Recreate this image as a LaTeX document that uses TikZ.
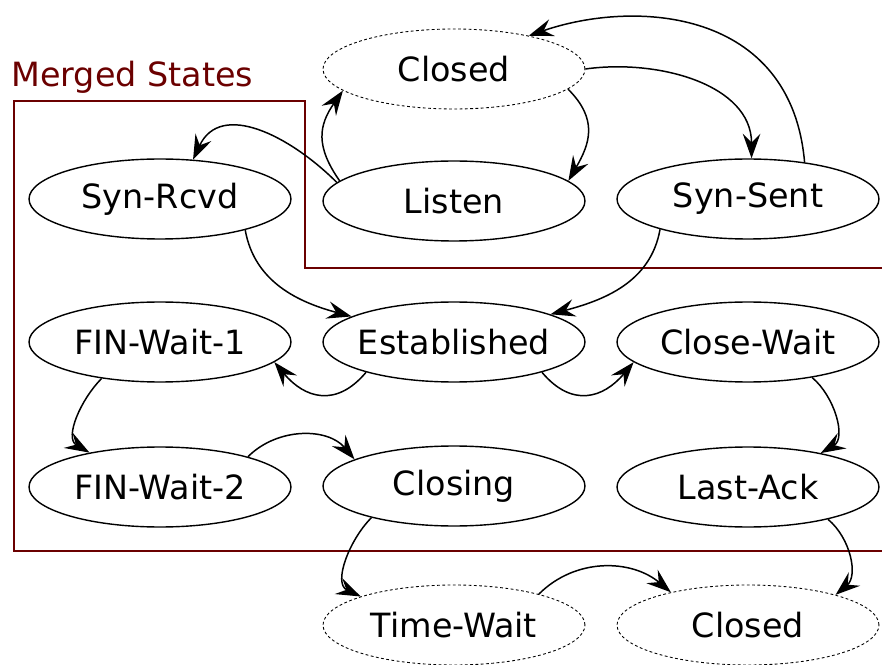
\documentclass[tikz,border=0pt]{standalone}
\usepackage{fontspec}
\setmainfont{DejaVu Sans}
\usetikzlibrary{arrows.meta,shapes.geometric}
\definecolor{mergedred}{HTML}{6B0000}
\begin{document}
\begin{tikzpicture}[x=0.02cm, y=-0.02cm,
            state/.style = {ellipse, draw, line width=0.8pt,
                            minimum width=5.24cm, minimum height=1.6cm,
                            inner xsep=-8mm, inner ysep=0pt,
                            font=\fontsize{19}{23}\selectfont},
            gone/.style = {state, line width=0.5pt, dash pattern=on 1.6pt off 1.4pt},
            trans/.style = {-{Stealth[length=14pt,width=10pt,inset=5pt]}, line width=0.85pt}]
    \useasboundingbox (0,0) rectangle (882,665);
    % merged region
    \draw[mergedred, line width=0.8pt] (882,268) -- (305,268) -- (305,101) -- (14,101)
        -- (14,551) -- (882,551);
    \node[mergedred, anchor=west, inner sep=0pt, font=\fontsize{19}{23}\selectfont]
        (merged) at (11,77) {Merged States};
    % states
    \node[gone]  (closed)  at (454,69)  {Closed};
    \node[state] (synrcvd) at (160,199) {Syn-Rcvd};
    \node[state] (listen)  at (454,201) {Listen};
    \node[state] (synsent) at (748,199) {Syn-Sent};
    \node[state] (finw1)   at (160,342) {FIN-Wait-1};
    \node[state] (estab)   at (454,342) {Established};
    \node[state] (closew)  at (748,342) {Close-Wait};
    \node[state] (finw2)   at (160,487) {FIN-Wait-2};
    \node[state] (closing) at (454,486) {Closing};
    \node[state] (lastack) at (748,487) {Last-Ack};
    \node[gone]  (timew)   at (454,625) {Time-Wait};
    \node[gone]  (closedb) at (748,625) {Closed};
    % transitions
    \draw[trans] (closed.-10)  to[out=-45,  in=60, looseness=1.2]   (listen.10);
    \draw[trans] (listen.170)  to[out=125,  in=-125, looseness=1.2] (closed.-169);
    \draw[trans] (closed.0)    to[out=8,    in=90]   (synsent.85);
    \draw[trans] (synsent.33)  to[out=95, in=19, out looseness=1.3, in looseness=0.95] (closed.24);
    \draw[trans] (listen.171)  to[out=135,  in=65, looseness=1.15]  (synrcvd.50);
    \draw[trans] (synrcvd.-20) to[out=-80,  in=165]  (estab.166);
    \draw[trans] (synsent.199) to[out=-100, in=15]   (estab.16);
    \draw[trans] (estab.199)   to[out=-130, in=-50, looseness=1.3]  (finw1.-10);
    \draw[trans] (estab.-19)   to[out=-50,  in=-130, looseness=1.3] (closew.190);
    \draw[trans] (finw1.212)   to[out=-135, in=150]  (finw2.154);
    \draw[trans] (finw2.19)    to[out=45,   in=130]  (closing.165);
    \draw[trans] (closew.-29)  to[out=-40,  in=30]   (lastack.25);
    \draw[trans] (closing.201) to[out=-135, in=155]  (timew.163);
    \draw[trans] (lastack.-22) to[out=-40,  in=40]   (closedb.19);
    \draw[trans] (timew.20)    to[out=45,   in=140]  (closedb.157);
\end{tikzpicture}
\end{document}
